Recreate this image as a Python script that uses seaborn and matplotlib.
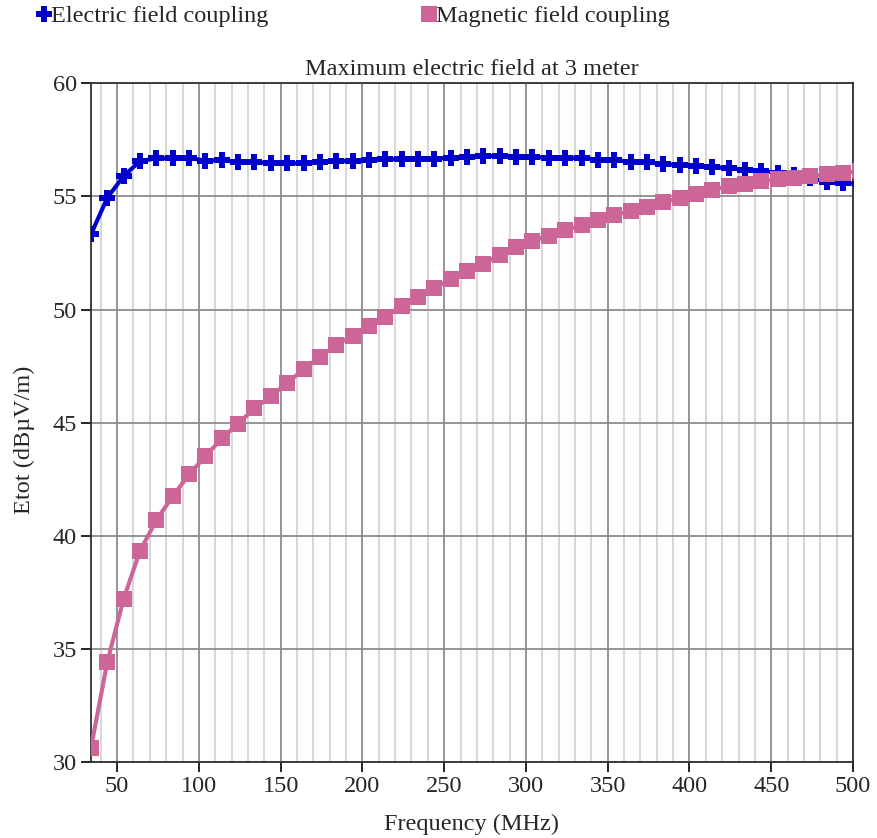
#!/usr/bin/env python3.12
# coding=utf-8

from matplotlib import pyplot as plt
from matplotlib.lines import Line2D
from matplotlib.ticker import MultipleLocator
import pandas as pd
import seaborn as sns

# Frequencies in MHz (first sample near 34 MHz, 10 MHz steps)
freq = [34, 44, 54, 64, 74, 84, 94, 104, 114, 124, 134, 144, 154, 164, 174, 184,
        194, 204, 214, 224, 234, 244, 254, 264, 274, 284, 294, 304, 314, 324, 334, 344,
        354, 364, 374, 384, 394, 404, 414, 424, 434, 444, 454, 464, 474, 484, 494, 504]

# Maximum field for electric field coupling (dBuV/m)
e_coupling = [53.32, 54.94, 55.90, 56.56, 56.68, 56.70, 56.70, 56.58, 56.60, 56.53, 56.53, 56.46,
              56.46, 56.47, 56.53, 56.55, 56.58, 56.60, 56.64, 56.65, 56.66, 56.67, 56.70, 56.76,
              56.78, 56.78, 56.76, 56.74, 56.72, 56.70, 56.70, 56.63, 56.60, 56.53, 56.50, 56.43,
              56.38, 56.33, 56.30, 56.25, 56.18, 56.12, 56.05, 55.95, 55.80, 55.65, 55.60, 55.55]

# Maximum field for magnetic field coupling (dBuV/m)
h_coupling = [30.62, 34.42, 37.22, 39.33, 40.69, 41.75, 42.71, 43.52, 44.30, 44.96, 45.63, 46.17,
              46.76, 47.35, 47.91, 48.43, 48.85, 49.28, 49.68, 50.15, 50.56, 50.96, 51.33, 51.70,
              52.03, 52.40, 52.75, 53.03, 53.27, 53.50, 53.73, 53.95, 54.16, 54.36, 54.55, 54.74,
              54.92, 55.12, 55.30, 55.44, 55.55, 55.67, 55.75, 55.82, 55.90, 55.98, 56.05, 56.12]

series_names = ['Electric field coupling', 'Magnetic field coupling']
x_ticks = [50, 100, 150, 200, 250, 300, 350, 400, 450, 500]
y_ticks = [30, 35, 40, 45, 50, 55, 60]

BLUE = '#0000CC'
PINK = '#CC6699'
FS = 17.5

sns.set_style('white')
plt.rcParams['font.family'] = ['Liberation Serif', 'DejaVu Serif']
plt.rcParams['font.size'] = FS

df = pd.DataFrame({'freq': freq, 'E': e_coupling, 'H': h_coupling})

fig = plt.figure(figsize=(8.78, 8.38), dpi=100)
ax = fig.add_axes([0.1036, 0.0907, 0.8679, 0.8099])

# Electric coupling first, magnetic drawn on top of it
sns.lineplot(data=df, x='freq', y='E', ax=ax, color=BLUE, linewidth=3,
             marker='P', markersize=11.5, markeredgewidth=0, zorder=3)
sns.lineplot(data=df, x='freq', y='H', ax=ax, color=PINK, linewidth=3,
             marker='s', markersize=12, markeredgewidth=0, zorder=4)

ax.set_xlim(34, 500)
ax.set_ylim(30, 60)
ax.set_xticks(x_ticks)
ax.set_yticks(y_ticks)
ax.xaxis.set_minor_locator(MultipleLocator(10))

# Grid: light minor verticals, darker major lines
ax.grid(which='minor', axis='x', color='#d8d8d8', linewidth=1.5, zorder=0)
ax.grid(which='major', axis='both', color='#8c8c8c', linewidth=1.3, zorder=1)
ax.set_axisbelow(True)

ax.tick_params(axis='both', which='major', direction='out', length=7, width=1.2,
               color='black', labelsize=FS, bottom=True, left=True, pad=3)
ax.tick_params(axis='x', which='minor', length=0)

for side in ['left', 'bottom', 'top', 'right']:
    ax.spines[side].set_color('#303030')
    ax.spines[side].set_linewidth(1.3)

ax.set_xlabel('Frequency (MHz)', fontsize=FS, labelpad=12)
ax.set_ylabel('Etot (dBµV/m)', fontsize=FS)
ax.yaxis.set_label_coords(-0.0735, 0.475)
ax.set_title('Maximum electric field at 3 meter', fontsize=FS, pad=6)

# Legend above the chart
handles = [
    Line2D([], [], color=BLUE, marker='P', markersize=12, markeredgewidth=0, linestyle='none'),
    Line2D([], [], color=PINK, marker='s', markersize=11, markeredgewidth=0, linestyle='none'),
]
fig.legend(handles, series_names, loc='upper left', bbox_to_anchor=(0.028, 1.008),
           ncol=2, frameon=False, fontsize=FS, handlelength=0.6, handletextpad=0.0,
           columnspacing=6.3, borderaxespad=0.1)

plt.savefig('out.png', dpi=100)
